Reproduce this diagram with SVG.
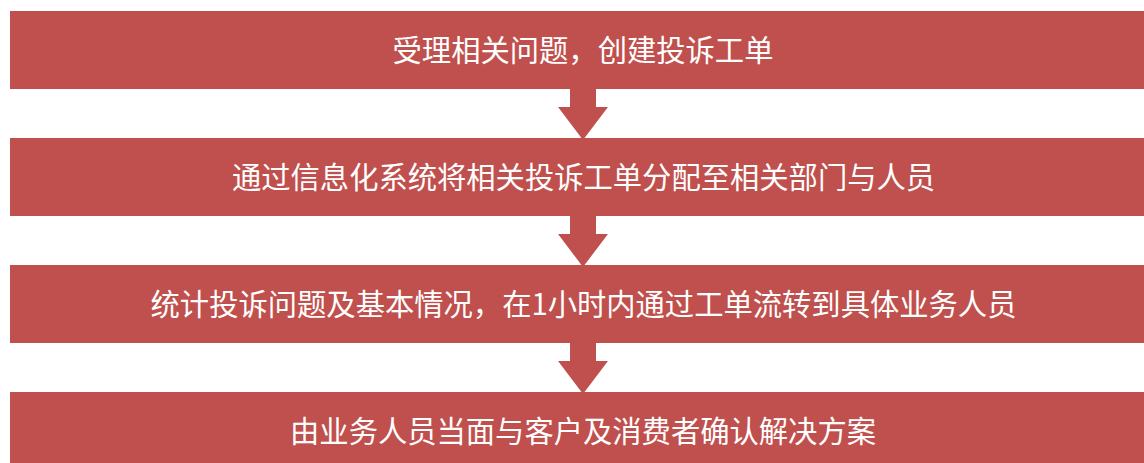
<svg xmlns="http://www.w3.org/2000/svg" width="1144" height="463" viewBox="0 0 1144 463">
<style>
.box{fill:#C0504D;}
.arrow{fill:#C0504D;}
.lbl{fill:#FFFFFF;font-family:"Noto Sans CJK SC","Microsoft YaHei",sans-serif;font-size:29.3px;text-anchor:middle;dominant-baseline:central;}
</style>
<rect width="1144" height="463" fill="#FFFFFF"/>
<g id="connectors">
<polygon class="arrow" points="570,88 596,88 596,107 608,107 583,140 558,107 570,107"/>
<polygon class="arrow" points="570,215 596,215 596,234 608,234 583,267 558,234 570,234"/>
<polygon class="arrow" points="570,342 596,342 596,361 608,361 583,394 558,361 570,361"/>
</g>
<g id="node1">
<rect class="box" x="10" y="11" width="1134" height="78"/>
<text class="lbl" x="583" y="48">受理相关问题，创建投诉工单</text>
</g>
<g id="node2">
<rect class="box" x="10" y="138" width="1134" height="78"/>
<text class="lbl" x="583.5" y="175">通过信息化系统将相关投诉工单分配至相关部门与人员</text>
</g>
<g id="node3">
<rect class="box" x="10" y="265" width="1134" height="78"/>
<text class="lbl" x="583.5" y="302">统计投诉问题及基本情况，在1小时内通过工单流转到具体业务人员</text>
</g>
<g id="node4">
<rect class="box" x="10" y="392" width="1134" height="78"/>
<text class="lbl" x="583" y="429">由业务人员当面与客户及消费者确认解决方案</text>
</g>
</svg>
